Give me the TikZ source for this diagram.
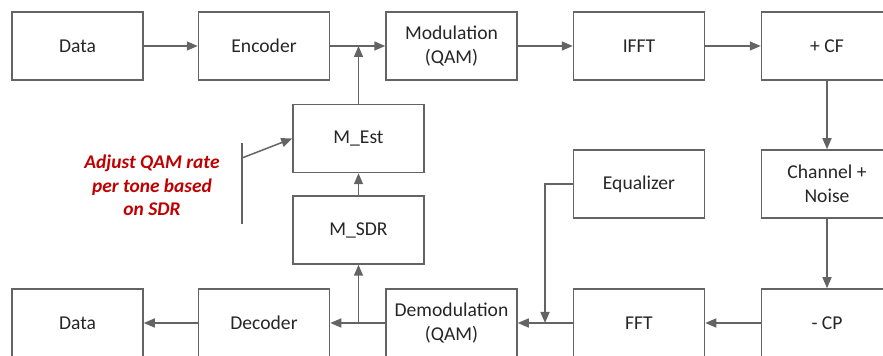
\documentclass[tikz,border=0pt]{standalone}
\usepackage{fontspec}
\setmainfont{Carlito}
\usetikzlibrary{arrows.meta}
\definecolor{linegray}{RGB}{100,100,100}
\definecolor{notered}{RGB}{192,0,0}
\tikzset{
  blk/.style={draw=linegray, line width=0.75pt, minimum width=65.5pt,
    minimum height=34pt, inner sep=0pt, align=center, text=black!85,
    font=\fontsize{9.8}{12}\selectfont},
  flow/.style={draw=linegray, line width=0.75pt,
    -{Triangle[length=5.5pt,width=4.5pt]}},
  note/.style={text=notered, align=center,
    font=\fontsize{9.7}{11.8}\selectfont\bfseries\itshape}
}
\begin{document}
\begin{tikzpicture}[x=0.5pt,y=-0.5pt]
      \useasboundingbox (0,0) rectangle (883,356);
      \clip (0,0) rectangle (883,356);
      \draw
        (77.5,46) node[blk] (datain){Data}
        (264,46) node[blk] (enc){Encoder}
        (451.5,46) node[blk] (mod){Modulation\\(QAM)}
        (639,46) node[blk] (ifft){IFFT}
        (827,46) node[blk] (addcf){+ CF}
        (358.5,138.5) node[blk] (mest){M\_Est}
        (358.5,230) node[blk] (msdr){M\_SDR}
        (639,184) node[blk] (eq){Equalizer}
        (827,184) node[blk] (chan){Channel +\\Noise}
        (77.5,323) node[blk] (dataout){Data}
        (264,323) node[blk] (dec){Decoder}
        (451.5,323) node[blk] (demod){Demodulation\\(QAM)}
        (639,323) node[blk] (fft){FFT}
        (827,323) node[blk] (rmcp){- CP};
      \node[note] (rate) at (152,185.5) {Adjust QAM rate\\per tone based\\on SDR};
      \coordinate (bartop) at (242,143);
      \coordinate (barmid) at (242,158);
      \coordinate (barbot) at (242,224);
      \coordinate (eqdrop) at (545,323);
      \draw[draw=linegray, line width=0.75pt] (bartop) to (barbot);
      \begin{scope}[flow]
        \draw (datain) to (enc);
        \draw (enc) to (mod);
        \draw (mod) to (ifft);
        \draw (ifft) to (addcf);
        \draw (addcf) to (chan);
        \draw (chan) to (rmcp);
        \draw (rmcp) to (fft);
        \draw (fft) to (demod);
        \draw (demod) to (dec);
        \draw (dec) to (dataout);
        \draw (mest) to (mest |- enc);
        \draw (msdr) to (mest);
        \draw (msdr |- dec) to (msdr);
        \draw (eq.west) -| (eqdrop);
        \draw (barmid) to (mest.west);
      \end{scope}
    \end{tikzpicture}
\end{document}
